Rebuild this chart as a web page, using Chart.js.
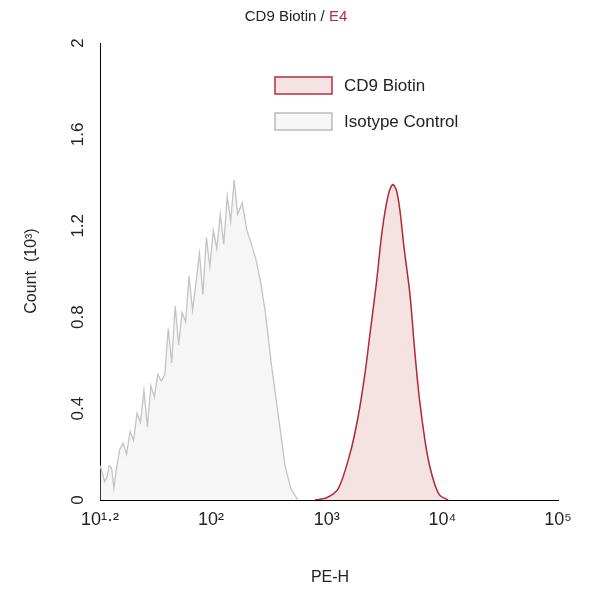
<!DOCTYPE html><html><head><meta charset="utf-8">
<script src="https://cdn.jsdelivr.net/npm/chart.js@4/dist/chart.umd.min.js"></script>
<style>body{margin:0;background:#fff}#w{width:593px;height:600px}</style></head><body><div id="w"><canvas id="c"></canvas></div>
<script>
const isoX=[1.04,1.06,1.08,1.10,1.12,1.14,1.16,1.18,1.21,1.24,1.27,1.30,1.33,1.36,1.39,1.42,1.45,1.48,1.51,1.54,1.57,1.60,1.63,1.66,1.69,1.72,1.75,1.78,1.81,1.84,1.87,1.90,1.93,1.96,1.99,2.02,2.05,2.08,2.11,2.14,2.17,2.20,2.23,2.27,2.31,2.35,2.39,2.43,2.47,2.52,2.56,2.60,2.64,2.69,2.75];
const isoY=[0.15,0.12,0.08,0.1,0.15,0.14,0.05,0.13,0.22,0.25,0.2,0.3,0.26,0.38,0.34,0.48,0.32,0.5,0.45,0.55,0.52,0.55,0.75,0.6,0.85,0.68,0.82,0.78,0.98,0.83,0.95,1.08,0.9,1.15,1.02,1.18,1.1,1.25,1.12,1.33,1.22,1.4,1.25,1.3,1.18,1.12,1.05,0.95,0.82,0.6,0.45,0.3,0.15,0.05,0];
const cdX=[2.9,3.0,3.1,3.2,3.27,3.33,3.38,3.43,3.48,3.53,3.57,3.6,3.63,3.67,3.72,3.76,3.8,3.85,3.89,3.94,3.98,4.05];
const cdY=[0,0.01,0.05,0.2,0.36,0.55,0.75,0.95,1.18,1.33,1.38,1.36,1.28,1.1,0.9,0.66,0.45,0.26,0.15,0.06,0.02,0];
const xTickVals=[1.04,2,3,4,5];
const xTickLabels=['10¹·²','10²','10³','10⁴','10⁵'];
const yTicks=[0,0.4,0.8,1.2,1.6,2];
const F='"Liberation Sans", Arial, sans-serif';
const pts=(xs,ys)=>xs.map((x,i)=>({x,y:ys[i]}));
const deco={id:'deco',afterDraw(ch){const c=ch.ctx;c.save();c.font='15px '+F;c.textBaseline='middle';
 const t1='CD9 Biotin / ',t2='E4';const w=c.measureText(t1+t2).width;let x0=296-w/2;
 c.fillStyle='#222';c.fillText(t1,x0,17);c.fillStyle='#b03040';c.fillText(t2,x0+c.measureText(t1).width,17);
 c.font='17px '+F;
 c.fillStyle='rgba(190,60,70,0.15)';c.strokeStyle='#b03040';c.lineWidth=1.5;c.fillRect(275,77,57,17);c.strokeRect(275,77,57,17);
 c.fillStyle='rgba(200,200,200,0.15)';c.strokeStyle='#bbb';c.fillRect(275,113,57,17);c.strokeRect(275,113,57,17);
 c.fillStyle='#222';c.fillText('CD9 Biotin',344,86);c.fillText('Isotype Control',344,122);
 c.textAlign='center';c.font='16px '+F;c.fillText('PE-H',330,578);
 const ys=ch.scales.y;c.font='17px '+F;
 yTicks.forEach(v=>{const p=ys.getPixelForValue(v);c.save();c.translate(78,p);c.rotate(-Math.PI/2);c.fillText(String(v),0,0);c.restore();});
 c.save();c.translate(32,271);c.rotate(-Math.PI/2);c.font='16px '+F;c.fillText('Count  (10³)',0,0);c.restore();
 c.restore();}};
new Chart(document.getElementById('c'),{type:'scatter',data:{datasets:[
 {data:pts(isoX,isoY),showLine:true,pointRadius:0,borderColor:'#c4c4c4',borderWidth:1.3,backgroundColor:'rgba(220,220,220,0.25)',fill:'origin',tension:0},
 {data:pts(cdX,cdY),showLine:true,pointRadius:0,borderColor:'#b02a35',borderWidth:1.5,backgroundColor:'rgba(190,60,70,0.15)',fill:'origin',tension:0.3}]},
 options:{responsive:true,maintainAspectRatio:false,animation:false,layout:{padding:{top:43,right:35,left:0,bottom:0}},
 plugins:{legend:{display:false},tooltip:{enabled:false}},
 scales:{x:{type:'linear',min:1.04,max:5,afterFit(a){a.height=100},afterBuildTicks(a){a.ticks=xTickVals.map(v=>({value:v}))},
  grid:{display:false,drawTicks:true,tickLength:6,tickColor:'#000'},border:{color:'#000'},
  ticks:{color:'#222',font:{size:18,family:F},maxRotation:0,autoSkip:false,callback:(v,i)=>xTickLabels[i]}},
 y:{min:0,max:2,afterFit(a){a.width=100},afterBuildTicks(a){a.ticks=yTicks.map(v=>({value:v}))},
  grid:{display:false,tickLength:6,tickColor:'#000'},border:{color:'#000'},
  ticks:{display:true,color:'rgba(0,0,0,0)',font:{size:17,family:F},callback:v=>String(v)}}}},plugins:[deco]});
</script></body></html>
